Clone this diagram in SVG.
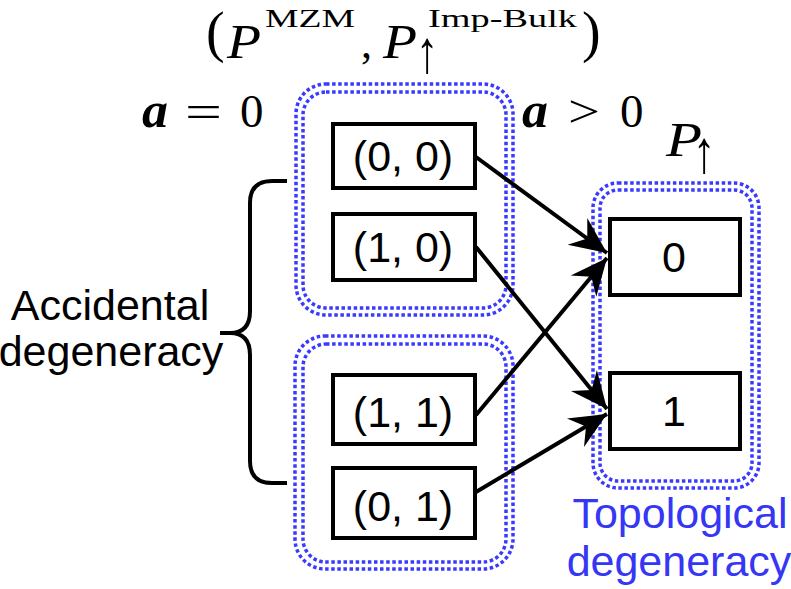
<svg xmlns="http://www.w3.org/2000/svg" width="791" height="589" viewBox="0 0 791 589">
<style>
.box{fill:#fff;stroke:#000;stroke-width:4}
.lbl{font-family:"Liberation Sans",Arial,sans-serif;font-size:43px;fill:#000;text-anchor:middle}
.blue{fill:#3636f5}
.grp{fill:none;stroke:#3a3aff;stroke-width:3.5;stroke-dasharray:3.5 2.6}
.math{font-family:"Liberation Serif","DejaVu Serif",serif;fill:#000}
.conn{stroke:#000;stroke-width:4;fill:none}
</style>
<defs>
<marker id="ah" markerUnits="userSpaceOnUse" markerWidth="40" markerHeight="40" viewBox="-34 -17 36 34" refX="0" refY="0" orient="auto">
<path d="M0,0 L-33,-15 L-22,0 L-33,15 Z" fill="#000"/>
</marker>
</defs>

<g id="group-left-top">
<rect class="grp" x="296" y="84" width="217" height="231" rx="30"/>
<rect class="grp" x="303" y="92" width="203" height="216" rx="23"/>
</g>
<g id="group-left-bottom">
<rect class="grp" x="295" y="336" width="218" height="233" rx="30"/>
<rect class="grp" x="303" y="344" width="203" height="218" rx="23"/>
</g>
<g id="group-right">
<rect class="grp" x="593" y="183" width="166" height="305" rx="25"/>
<rect class="grp" x="600" y="190" width="152" height="291" rx="18"/>
</g>

<g id="connectors">
<line class="conn" x1="476" y1="157" x2="607" y2="253" marker-end="url(#ah)"/>
<line class="conn" x1="476" y1="247" x2="607" y2="409" marker-end="url(#ah)"/>
<line class="conn" x1="476" y1="415" x2="607" y2="258" marker-end="url(#ah)"/>
<line class="conn" x1="476" y1="492" x2="607" y2="414" marker-end="url(#ah)"/>
</g>

<g id="node-00">
<rect class="box" x="333" y="124" width="142" height="64"/>
<text class="lbl" x="403" y="171">(0, 0)</text>
</g>
<g id="node-10">
<rect class="box" x="333" y="214" width="142" height="66"/>
<text class="lbl" x="403" y="262">(1, 0)</text>
</g>
<g id="node-11">
<rect class="box" x="333" y="375" width="142" height="69"/>
<text class="lbl" x="403" y="427">(1, 1)</text>
</g>
<g id="node-01">
<rect class="box" x="333" y="468" width="142" height="70"/>
<text class="lbl" x="403" y="521">(0, 1)</text>
</g>
<g id="node-0">
<rect class="box" x="610" y="219" width="130" height="76"/>
<text class="lbl" x="674" y="272">0</text>
</g>
<g id="node-1">
<rect class="box" x="610" y="373" width="130" height="76"/>
<text class="lbl" x="674" y="426">1</text>
</g>

<g id="brace">
<path class="conn" d="M287,181 H272 Q250,181 250,203 V311 Q250,333 230,333 H220 M230,333 Q250,333 250,355 V461 Q250,483 272,483 H287"/>
</g>

<g id="labels">
<text class="lbl" x="110" y="320">Accidental</text>
<text class="lbl" x="111" y="366" font-size="42">degeneracy</text>
<text class="lbl blue" x="680" y="528">Topological</text>
<text class="lbl blue" x="679" y="576">degeneracy</text>
</g>

<g id="math">
<text class="math" x="206" y="51" font-size="56">(</text>
<text class="math" x="227" y="58" font-size="48" font-style="italic" textLength="34" lengthAdjust="spacingAndGlyphs">P</text>
<text class="math" x="265" y="27" font-size="26" textLength="90" lengthAdjust="spacingAndGlyphs">MZM</text>
<text class="math" x="361" y="58" font-size="44">,</text>
<text class="math" x="383" y="58" font-size="48" font-style="italic" textLength="34" lengthAdjust="spacingAndGlyphs">P</text>
<text class="math" x="428" y="27" font-size="26" textLength="149" lengthAdjust="spacingAndGlyphs">Imp-Bulk</text>
<text class="math" transform="translate(427,72) scale(1.5,2)" font-size="30" text-anchor="middle">↑</text>
<text class="math" x="582" y="51" font-size="56">)</text>

<text class="math" x="142" y="127" font-size="50" font-style="italic" font-weight="bold" textLength="26" lengthAdjust="spacingAndGlyphs">a</text>
<text class="math" x="185" y="127" font-size="46" textLength="37" lengthAdjust="spacingAndGlyphs">=</text>
<text class="math" x="240" y="127" font-size="47">0</text>

<text class="math" x="522" y="127" font-size="50" font-style="italic" font-weight="bold" textLength="26" lengthAdjust="spacingAndGlyphs">a</text>
<text class="math" x="568" y="127" font-size="46" textLength="32" lengthAdjust="spacingAndGlyphs">&gt;</text>
<text class="math" x="620" y="127" font-size="47">0</text>

<text class="math" x="666" y="156" font-size="48" font-style="italic" textLength="36" lengthAdjust="spacingAndGlyphs">P</text>
<text class="math" transform="translate(704,172) scale(1.5,2)" font-size="30" text-anchor="middle">↑</text>
</g>
</svg>
